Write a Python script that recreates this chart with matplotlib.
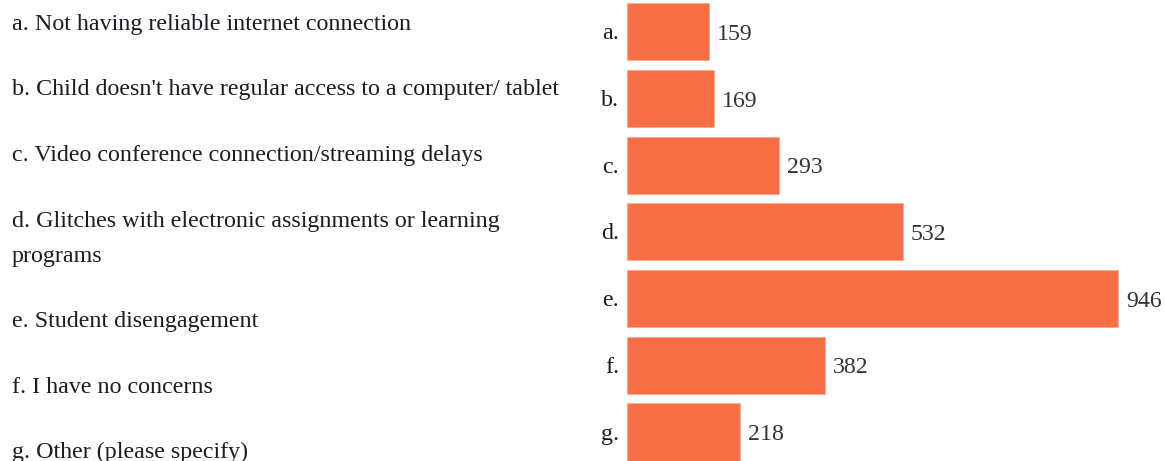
import matplotlib
matplotlib.use("Agg")
import matplotlib.pyplot as plt

letters = ["a.", "b.", "c.", "d.", "e.", "f.", "g."]
answers = [
    "Not having reliable internet connection",
    "Child doesn't have regular access to a computer/ tablet",
    "Video conference connection/streaming delays",
    "Glitches with electronic assignments or learning\nprograms",
    "Student disengagement",
    "I have no concerns",
    "Other (please specify)",
]
counts = [159, 169, 293, 532, 946, 382, 218]

W, H = 1165, 461
fig = plt.figure(figsize=(W / 100, H / 100), dpi=100)
plt.rcParams["font.family"] = ["Liberation Serif", "DejaVu Serif"]

bar_color = "#F96F45"
text_color = "#1c1c24"
value_color = "#333333"
fs = 17.3

# bar area: left edge at 626px, ~0.52 px per unit, 66.7px per row
row_px = 66.7
left_px = 626.5
ax = fig.add_axes([left_px / W, 0, 1000 * 0.52 / W, 1])
top = 31.8 / row_px
ax.set_ylim(H / row_px - top, -top)
ax.set_xlim(0, 1000)
ax.set_axis_off()

ys = range(len(counts))
bars = ax.barh(ys, counts, height=0.855, color=bar_color,
               edgecolor="#FBA78C", linewidth=0.6)

for y, letter, bar in zip(ys, letters, bars):
    ax.annotate(letter, (0, y), xytext=(-5.4, -5.4), textcoords="offset points",
                ha="right", va="baseline", fontsize=fs, color=text_color)
    ax.annotate(str(int(bar.get_width())), (bar.get_width(), y),
                xytext=(5.6, -5.9), textcoords="offset points",
                ha="left", va="baseline", fontsize=17.2, color=value_color)

# left column list, laid out like the original text block
y_px = 30
for letter, answer in zip(letters, answers):
    lines = f"{letter} {answer}".split("\n")
    for i, line in enumerate(lines):
        fig.text(12 / W, 1 - y_px / H, line, ha="left", va="baseline",
                 fontsize=fs, color=text_color)
        if i < len(lines) - 1:
            y_px += 35
    y_px += 65.5

fig.savefig("out.png", dpi=100)
